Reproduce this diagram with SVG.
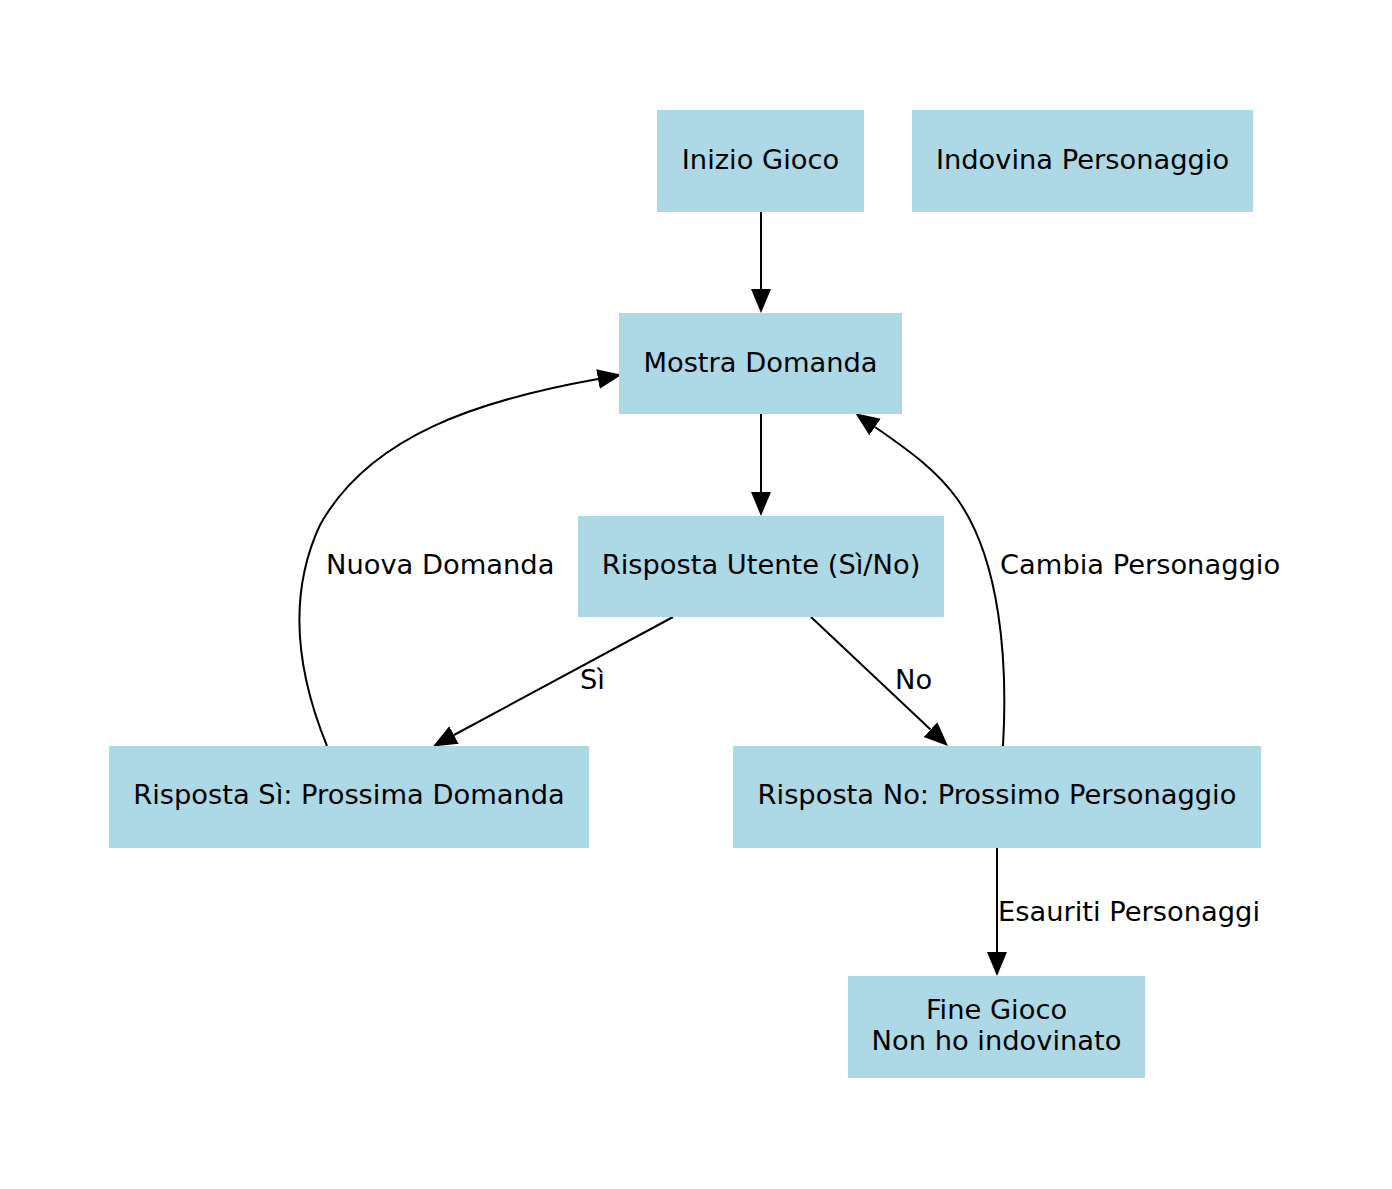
<svg xmlns="http://www.w3.org/2000/svg" width="1392" height="1189" viewBox="0 0 1392 1189">
<style>
.n{fill:#add8e6}
.t{font-family:"DejaVu Sans",sans-serif;font-size:27.3px;fill:#000;text-anchor:middle}
.l{font-family:"DejaVu Sans",sans-serif;font-size:27.3px;fill:#000}
.e{fill:none;stroke:#000;stroke-width:2}
</style>
<defs>
<marker id="a" markerUnits="userSpaceOnUse" markerWidth="26" markerHeight="22" refX="0" refY="10" orient="auto">
<path d="M0,0 L24,10 L0,20 z" fill="#000"/>
</marker>
</defs>
<rect width="1392" height="1189" fill="#fff"/>
<g id="connectors">
<path class="e" d="M761,212 L761,289" marker-end="url(#a)"/>
<path class="e" d="M761,414 L761,492" marker-end="url(#a)"/>
<path class="e" d="M673,617 L454,735" marker-end="url(#a)"/>
<path class="e" d="M811,617 L930.5,729.6" marker-end="url(#a)"/>
<path class="e" d="M327,746 C300,680 285,600 320,525 C370,435 480,400 598,379" marker-end="url(#a)"/>
<path class="e" d="M1003,746 C1008,660 1000,560 958,500 C935,468 905,448 875,427" marker-end="url(#a)"/>
<path class="e" d="M997,848 L997,952" marker-end="url(#a)"/>
<text class="l" x="580" y="689">Sì</text>
<text class="l" x="895" y="689">No</text>
<text class="l" x="326" y="574">Nuova Domanda</text>
<text class="l" x="1000" y="574">Cambia Personaggio</text>
<text class="l" x="998" y="921">Esauriti Personaggi</text>
</g>
<g id="inizio"><rect class="n" x="657" y="110" width="207" height="102"/><text class="t" x="760.5" y="169">Inizio Gioco</text></g>
<g id="indovina"><rect class="n" x="912" y="110" width="341" height="102"/><text class="t" x="1082.5" y="169">Indovina Personaggio</text></g>
<g id="mostra"><rect class="n" x="619" y="313" width="283" height="101"/><text class="t" x="760.5" y="372">Mostra Domanda</text></g>
<g id="risposta_utente"><rect class="n" x="578" y="516" width="366" height="101"/><text class="t" x="761" y="574">Risposta Utente (Sì/No)</text></g>
<g id="risposta_si"><rect class="n" x="109" y="746" width="480" height="102"/><text class="t" x="349" y="804">Risposta Sì: Prossima Domanda</text></g>
<g id="risposta_no"><rect class="n" x="733" y="746" width="528" height="102"/><text class="t" x="997" y="804">Risposta No: Prossimo Personaggio</text></g>
<g id="fine"><rect class="n" x="848" y="976" width="297" height="102"/><text class="t" x="996.5" y="1019">Fine Gioco</text><text class="t" x="996.5" y="1050">Non ho indovinato</text></g>
</svg>
